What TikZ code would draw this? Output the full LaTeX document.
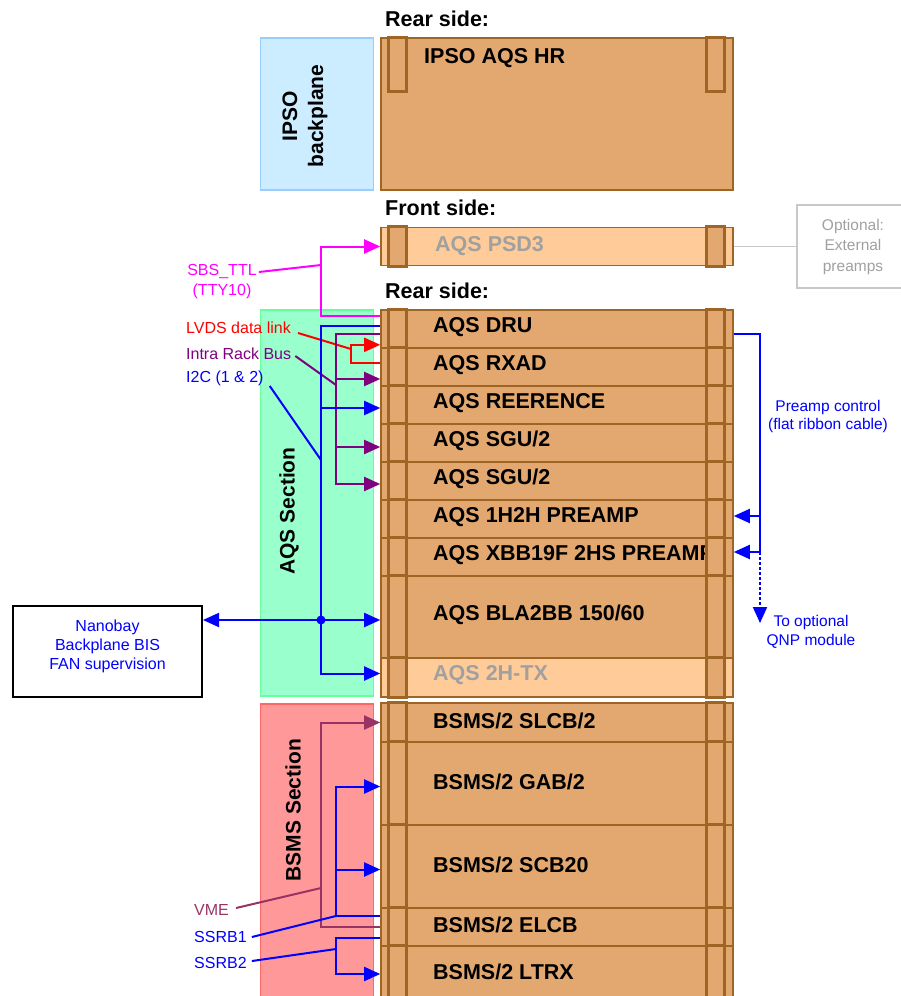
\documentclass[tikz,border=0pt]{standalone}
\usepackage{fontspec}
\setmainfont{Liberation Sans}
\usepackage{tikz}
\usetikzlibrary{positioning, arrows.meta, calc}
\definecolor{cardfill}{RGB}{227,168,111}
\definecolor{lightcard}{RGB}{255,204,153}
\definecolor{cardedge}{RGB}{158,101,36}
\definecolor{ghost}{RGB}{160,160,160}
\definecolor{optedge}{RGB}{200,200,200}
\definecolor{skyfill}{RGB}{204,236,255}
\definecolor{skyedge}{RGB}{153,204,255}
\definecolor{aqsfill}{RGB}{153,255,204}
\definecolor{aqsedge}{RGB}{102,255,153}
\definecolor{bsmsfill}{RGB}{255,153,153}
\definecolor{bsmsedge}{RGB}{255,102,102}
\definecolor{sbs}{RGB}{255,0,255}
\definecolor{lvds}{RGB}{255,0,0}
\definecolor{irb}{RGB}{128,0,128}
\definecolor{bus}{RGB}{0,0,255}
\definecolor{vme}{RGB}{153,51,102}
\tikzset{
  card/.style    ={rectangle, draw=cardedge, line width=1.6pt, fill=cardfill,
                   minimum width=352pt, inner sep=0pt},
  ear/.style     ={draw=cardedge, line width=3pt, fill=cardfill},
  secbox/.style  ={rectangle, line width=1.6pt, minimum width=113pt, inner sep=0pt},
  cardlbl/.style ={anchor=west, inner sep=0pt, font=\fontsize{21.5}{25}\selectfont\bfseries},
  seclbl/.style  ={rotate=90, align=center, inner sep=0pt, font=\fontsize{21}{26}\selectfont\bfseries},
  note/.style    ={align=center, inner sep=1pt, font=\fontsize{16}{19}\selectfont},
  wire/.style    ={line width=2pt},
  arr/.style     ={wire, -{Triangle[length=16pt, width=14pt]}},
  dblarr/.style  ={wire, {Triangle[length=16pt, width=14pt]}-{Triangle[length=16pt, width=14pt]}},
}
\begin{document}
\begin{tikzpicture}[x=1pt, y=-1pt]
\path[use as bounding box, clip] (0,0) rectangle (901,996);

\node[secbox, draw=skyedge, fill=skyfill, minimum height=152pt] (ipso) at (317,114) {};
\node[seclbl] at (305,116) {IPSO\\backplane};
\node[secbox, draw=aqsedge, fill=aqsfill, minimum height=386pt] (aqs) at (317,503) {};
\node[seclbl] at (289,511) {AQS Section};
\node[secbox, draw=bsmsedge, fill=bsmsfill, minimum height=300pt] (bsms) at (317,854) {};
\node[seclbl] at (293,810) {BSMS Section};

\node[cardlbl] (rear1) at (385,19) {Rear side:};
\node[cardlbl] (front) at (385,208) {Front side:};
\node[cardlbl] (rear2) at (385,291) {Rear side:};

\node[card, minimum height=152pt] (hr) at (557,114) {};
\node[cardlbl] at (424,58) {IPSO AQS HR};
\draw[ear] ($(hr.north west)+(8,0)$) rectangle ($(hr.north west)+(26,54)$);
\draw[ear] ($(hr.north east)+(-27,0)$) rectangle ($(hr.north east)+(-9,54)$);

\node[card, fill=lightcard, minimum height=38pt] (psd3) at (557,246.5) {};
\node[cardlbl, text=ghost] at (435,246) {AQS PSD3};

\foreach \nm/\yt/\yb/\fcol/\tcol/\lbl in {
  dru/310/348/cardfill/black/AQS DRU,
  rxad/348/386/cardfill/black/AQS RXAD,
  ref/386/424/cardfill/black/AQS REERENCE,
  sgua/424/462/cardfill/black/{AQS SGU/2},
  sgub/462/500/cardfill/black/{AQS SGU/2},
  pre/500/538/cardfill/black/AQS 1H2H PREAMP,
  xbb/538/576/cardfill/black/AQS XBB19F 2HS PREAMP,
  bla/576/658/cardfill/black/{AQS BLA2BB 150/60},
  tx/658/697/lightcard/ghost/AQS 2H-TX,
  slcb/703/742/cardfill/black/{BSMS/2 SLCB/2},
  gab/742/825/cardfill/black/{BSMS/2 GAB/2},
  scb/825/908/cardfill/black/{BSMS/2 SCB20},
  elcb/908/946/cardfill/black/{BSMS/2 ELCB},
  ltrx/946/1002/cardfill/black/{BSMS/2 LTRX}} {
  \node[card, fill=\fcol, minimum height={(\yb-\yt)*1pt}] (\nm) at (557,{(\yt+\yb)/2}) {};
  \node[cardlbl, text=\tcol] at (433,{(\yt+\yb)/2-2}) {\lbl};
}
\foreach \nm in {psd3, dru, rxad, ref, sgua, sgub, pre, xbb, bla, tx, slcb, gab, scb, elcb, ltrx} {
  \draw[ear] ($(\nm.north west)+(8,0)$) rectangle ($(\nm.south west)+(26,0)$);
  \draw[ear] ($(\nm.north east)+(-27,0)$) rectangle ($(\nm.south east)+(-9,0)$);
}

\node[note, draw=optedge, line width=1.5pt, text=ghost, minimum width=112pt, minimum height=83pt,
      font=\fontsize{15.5}{20.5}\selectfont] (opt) at (853,246.5) {Optional:\\External\\preamps};
\draw[line width=1.5pt, optedge] (psd3.east) -- (opt.west);

\node[note, draw=black, line width=2pt, fill=white, text=bus, minimum width=189pt, minimum height=91pt]
      (nano) at (107.5,651.5) {Nanobay\\Backplane BIS\\FAN supervision\\[-6pt]};

\coordinate (sbsjoin) at (321,265);
\node[note, text=sbs, font=\fontsize{16}{20}\selectfont] (sbslbl) at (222,282) {SBS\_TTL\\(TTY10)};
\draw[arr, sbs] ($(dru.north west)+(0,7)$) -| (sbsjoin) |- (psd3.west);
\draw[wire, sbs] ($(sbslbl.east)+(1,-10)$) -- (sbsjoin);

\coordinate (lvdsjoin) at (351,349);
\node[note, text=lvds, anchor=west] (lvdslbl) at (185,328) {LVDS data link};
\draw[arr, lvds] ($(rxad.west)+(0,-4)$) -| (lvdsjoin) |- ($(dru.south west)+(0,-4)$);
\draw[wire, lvds] ($(lvdslbl.east)+(6,5)$) -- (lvdsjoin);

\coordinate (irbjoin) at (336,385);
\node[note, text=irb, anchor=west] (irblbl) at (185,354) {Intra Rack Bus};
\draw[wire, irb] ($(dru.west)+(0,5)$) -| (irbjoin);
\draw[arr, irb] (irbjoin) |- ($(sgub.west)+(0,3)$);
\draw[arr, irb] ($(rxad.west)+(-45,12)$) -- ($(rxad.west)+(0,12)$);
\draw[arr, irb] ($(sgua.west)+(-45,4)$) -- ($(sgua.west)+(0,4)$);
\draw[wire, irb] ($(irblbl.east)+(3,2)$) -- (irbjoin);

\coordinate (i2cjoin) at (321,460);
\coordinate (nanodot) at (321,620);
\node[note, text=bus, anchor=west] (i2clbl) at (185,378) {I2C (1 \& 2)};
\draw[arr, bus] ($(dru.west)+(0,-3)$) -| (i2cjoin) |- ($(tx.west)+(0,-4)$);
\draw[arr, bus] ($(ref.west)+(-60,3)$) -- ($(ref.west)+(0,3)$);
\draw[dblarr, bus] (nanodot -| nano.east) -- (nanodot -| bla.west);
\fill[bus] (nanodot) circle (4.5);
\draw[wire, bus] ($(i2clbl.east)+(5,8)$) -- (i2cjoin);

\coordinate (prejoin) at (760,552);
\coordinate (qnpend) at (760,623);
\draw[wire, bus] ($(dru.east)+(0,5)$) -| (prejoin);
\draw[arr, bus] ($(pre.east)+(27,-3)$) -- ($(pre.east)+(0,-3)$);
\draw[arr, bus] (prejoin) -- (prejoin -| xbb.east);
\draw[arr, bus, dash pattern=on 3pt off 2pt] (prejoin) -- (qnpend);
\node[note, text=bus, font=\fontsize{15.5}{18}\selectfont] (prelbl) at (828,416) {Preamp control\\(flat ribbon cable)};
\node[note, text=bus, font=\fontsize{15.5}{19}\selectfont] (qnplbl) at (811,631.5) {To optional\\QNP module};

\coordinate (vmejoin) at (321,888);
\coordinate (ssrbajoin) at (336,916);
\coordinate (ssrbbjoin) at (336,949);
\node[note, text=vme, anchor=west] (vmelbl) at (193,910) {VME};
\node[note, text=bus, anchor=west] (ssrbalbl) at (193,937) {SSRB1};
\node[note, text=bus, anchor=west] (ssrbblbl) at (193,963) {SSRB2};
\draw[arr, vme] (elcb.west) -| (vmejoin) |- (slcb.west);
\draw[arr, bus] ($(elcb.west)+(0,-11)$) -- (ssrbajoin) |- ($(gab.west)+(0,3)$);
\draw[arr, bus] ($(scb.west)+(-45,3)$) -- ($(scb.west)+(0,3)$);
\draw[arr, bus] ($(elcb.west)+(0,11)$) -| (ssrbbjoin) |- (ltrx.west);
\draw[wire, vme] ($(vmelbl.east)+(6,-2)$) -- (vmejoin);
\draw[wire, bus] ($(ssrbalbl.east)+(4,0)$) -- (ssrbajoin);
\draw[wire, bus] ($(ssrbblbl.east)+(4,-2)$) -- (ssrbbjoin);
\end{tikzpicture}
\end{document}
